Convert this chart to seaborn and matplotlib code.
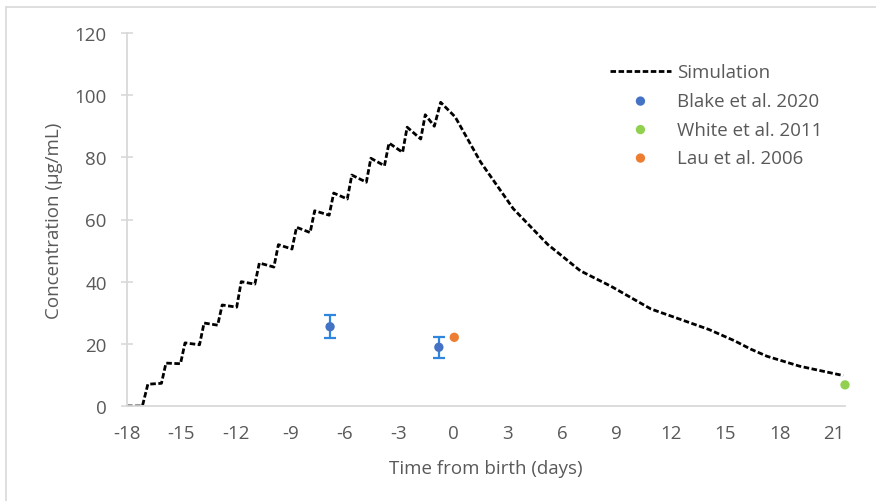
import matplotlib
matplotlib.use("Agg")
import matplotlib.pyplot as plt
import numpy as np
import pandas as pd
import seaborn as sns

# simulated concentration: daily doses before birth, then washout
sim_days = [-18.0, -17.15, -16.85, -16.1, -15.85, -15.05, -14.8, -14.0, -13.75,
            -13.0, -12.75, -11.95, -11.7, -10.95, -10.7, -9.9, -9.65, -8.9,
            -8.65, -7.9, -7.65, -6.85, -6.6, -5.85, -5.6, -4.8, -4.55, -3.8,
            -3.55, -2.8, -2.55, -1.8, -1.55, -1.05, -0.7, 0.1, 1.5, 3.3, 5.2,
            7.0, 8.7, 10.9, 12.7, 14.1, 15.5, 16.4, 17.3, 19.1, 21.5]
sim_conc = [0.0, 0.0, 7.0, 7.3, 13.8, 13.6, 20.3, 19.7, 26.7,
            26.0, 32.5, 31.8, 40.0, 39.2, 46.0, 44.7, 51.9, 50.5,
            57.5, 55.8, 62.8, 61.4, 68.5, 66.6, 74.3, 72.0, 79.7, 77.3,
            84.6, 81.6, 89.7, 85.9, 93.7, 90.0, 97.7, 93.0, 78.5, 63.5, 52.0,
            43.5, 38.5, 31.2, 27.5, 24.6, 21.0, 18.3, 16.0, 12.8, 9.8]

blake_days = [-6.8, -0.8]
blake_conc = [25.5, 18.9]
blake_err = [3.7, 3.3]
white_days = [21.6]
white_conc = [6.8]
lau_days = [0.05]
lau_conc = [22.1]

sns.set_theme(style="white")
plt.rcParams['font.family'] = ['Open Sans', 'DejaVu Sans']
plt.rcParams['axes.unicode_minus'] = False
txt = '#595959'
grey = '#D9D9D9'
fs = 13.5

fig = plt.figure(figsize=(8.76, 5.02), dpi=100)
ax = fig.add_axes([127/876, 1-407/502, (845-127)/876, (407-34)/502])

# outer chart-area border (only left/top visible in the original crop)
fig.add_artist(plt.Line2D([6/876, 6/876], [0, 1-8/502], transform=fig.transFigure, color=grey, lw=1.2))
fig.add_artist(plt.Line2D([6/876, 1], [1-8/502, 1-8/502], transform=fig.transFigure, color=grey, lw=1.2))

sim = pd.DataFrame({'day': sim_days, 'conc': sim_conc})
sns.lineplot(data=sim, x='day', y='conc', ax=ax, color='black', lw=2.0,
             dashes=False, sort=False, estimator=None, label='Simulation')
ax.lines[-1].set_dashes((2.0, 0.9))

ax.errorbar(blake_days, blake_conc, yerr=blake_err, fmt='none', ecolor='#2E86DE',
            elinewidth=1.6, capsize=4, capthick=1.6, zorder=3)
sns.scatterplot(x=blake_days, y=blake_conc, ax=ax, color='#4472C4', s=45,
                edgecolor='none', label='Blake et al. 2020', zorder=4)
sns.scatterplot(x=white_days, y=white_conc, ax=ax, color='#92D050', s=45,
                edgecolor='none', label='White et al. 2011', zorder=4, clip_on=False)
sns.scatterplot(x=lau_days, y=lau_conc, ax=ax, color='#ED7D31', s=45,
                edgecolor='none', label='Lau et al. 2006', zorder=4)

ax.set_xlim(-18, 21.6)
ax.set_ylim(0, 120)
ax.set_xticks(np.arange(-18, 22, 3))
ax.set_yticks(np.arange(0, 121, 20))
for s in ['top', 'right']:
    ax.spines[s].set_visible(False)
for s in ['left', 'bottom']:
    ax.spines[s].set_color(grey)
    ax.spines[s].set_linewidth(1.3)
ax.tick_params(axis='y', direction='inout', length=9, width=1.2, color=grey,
               labelsize=fs, labelcolor=txt, pad=10, left=True)
ax.tick_params(axis='x', length=0, labelsize=fs, labelcolor=txt, pad=13)

ax.set_xlabel('Time from birth (days)', fontsize=fs, color=txt, labelpad=12)
ax.set_ylabel('Concentration (µg/mL)', fontsize=fs, color=txt, labelpad=8)

leg = ax.legend(loc='upper left', frameon=False, fontsize=fs, handlelength=3.3,
                handletextpad=0.3, labelspacing=0.56, borderaxespad=0)
for t in leg.get_texts():
    t.set_color(txt)
leg.set_bbox_to_anchor((602/876, 1-57/502), transform=fig.transFigure)

fig.savefig('out.png', dpi=100)
